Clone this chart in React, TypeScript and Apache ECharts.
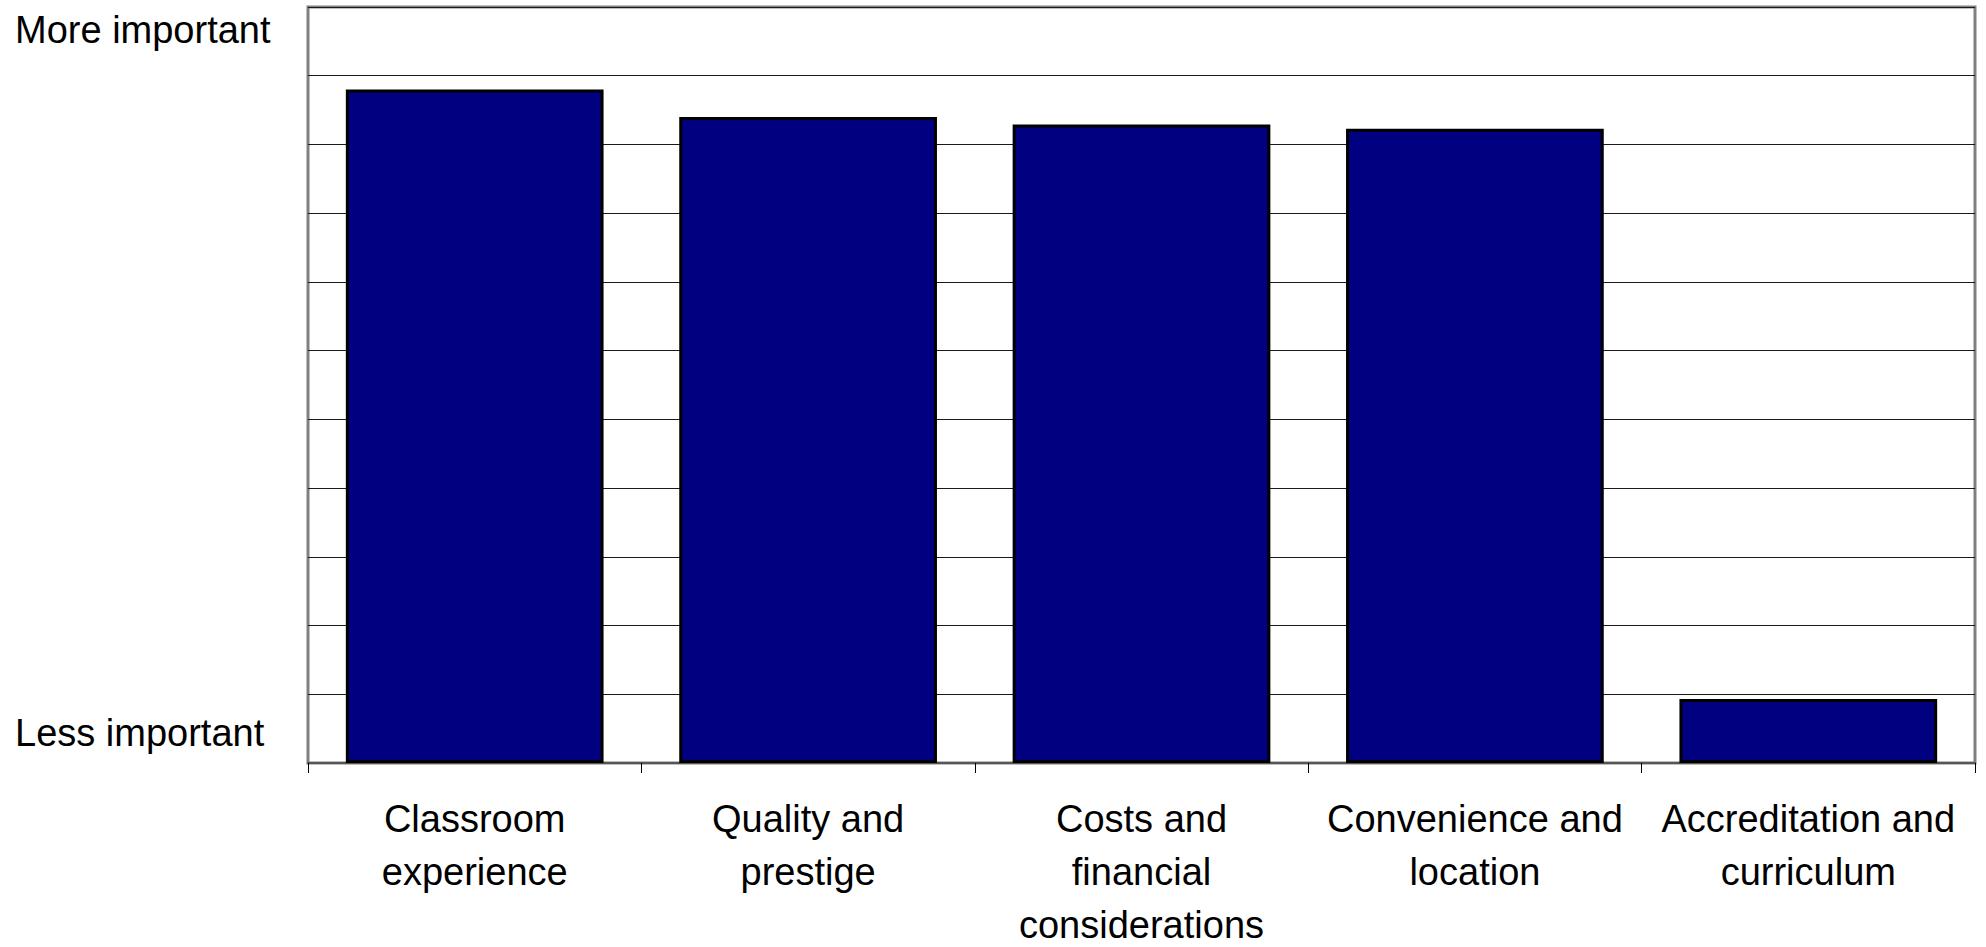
import React, { useEffect, useRef } from "react";
import * as echarts from "echarts";

const categories = [
  "Classroom\nexperience",
  "Quality and\nprestige",
  "Costs and\nfinancial\nconsiderations",
  "Convenience and\nlocation",
  "Accreditation and\ncurriculum",
];
const values = [9.8, 9.4, 9.29, 9.23, 0.93];
const topLabel = "More important";
const bottomLabel = "Less important";

const FONT = "'Liberation Sans', Arial, sans-serif";

export default function App() {
  const ref = useRef<HTMLDivElement>(null);
  useEffect(() => {
    if (!ref.current) return;
    const chart = echarts.init(ref.current, undefined, { renderer: "svg" });
    chart.setOption({
      animation: false,
      backgroundColor: "#ffffff",
      grid: {
        left: 308,
        right: 11,
        top: 7,
        bottom: 184,
        containLabel: false,
        outerBoundsMode: "none",
        show: true,
        borderColor: "#808080",
        borderWidth: 3,
        backgroundColor: "transparent",
      },
      xAxis: {
        type: "category",
        data: categories,
        boundaryGap: true,
        axisLine: { show: true, lineStyle: { color: "#555555", width: 2 } },
        axisTick: {
          show: true,
          interval: 0,
          length: 10,
          lineStyle: { color: "#000000", width: 1 },
        },
        axisLabel: {
          interval: 0,
          margin: 29,
          fontFamily: FONT,
          fontSize: 38,
          lineHeight: 53,
          color: "#000000",
          align: "center",
        },
      },
      yAxis: {
        type: "value",
        min: 0,
        max: 11,
        interval: 1,
        axisLine: { show: false },
        axisTick: { show: false },
        axisLabel: { show: false },
        splitLine: { show: true, lineStyle: { color: "#1a1a1a", width: 1 } },
      },
      graphic: [
        {
          type: "text",
          left: 15,
          top: 11,
          style: {
            text: topLabel,
            fontFamily: FONT,
            fontSize: 38,
            fill: "#000000",
          },
        },
        {
          type: "text",
          left: 15,
          top: 714,
          style: {
            text: bottomLabel,
            fontFamily: FONT,
            fontSize: 38,
            fill: "#000000",
          },
        },
      ],
      series: [
        {
          type: "bar",
          data: values,
          barCategoryGap: "22.7%",
          itemStyle: {
            color: "#000080",
            borderColor: "#000000",
            borderWidth: 3,
          },
        },
      ],
    });
    return () => chart.dispose();
  }, []);
  return (
    <div
      ref={ref}
      style={{ position: "absolute", left: 0, top: 0, width: 1986, height: 947 }}
    />
  );
}
